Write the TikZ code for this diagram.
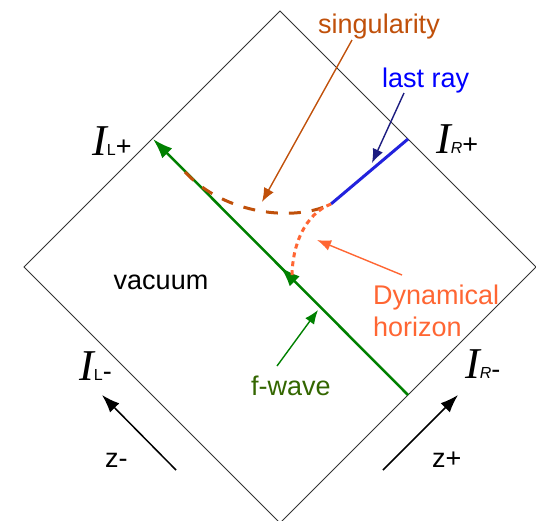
\documentclass[tikz,border=0pt]{standalone}
\usepackage{fontspec}
\setmainfont{Liberation Sans}
\newfontfamily\serifI{Liberation Serif}
\usetikzlibrary{arrows.meta,decorations.markings}
\definecolor{sgorange}{HTML}{C0500A}
\definecolor{lrblue}{HTML}{0000FF}
\definecolor{lrline}{HTML}{2222DD}
\definecolor{lrnavy}{HTML}{1C1C80}
\definecolor{dhred}{HTML}{FF6633}
\definecolor{fwgreen}{HTML}{008000}
\definecolor{fwtext}{HTML}{336600}
\definecolor{edgegray}{HTML}{333333}
\newcommand{\scrilbl}[2]{{\fontsize{44}{44}\selectfont\serifI\itshape I}{\fontsize{16}{16}\selectfont #1}{\fontsize{27}{27}\selectfont #2}}

\begin{document}
\begin{tikzpicture}[x=1pt, y=-1pt,
  edge/.style={draw=edgegray, line width=1pt},
  lbl/.style={font=\fontsize{27}{32}\selectfont, inner sep=0pt},
  scri/.style={anchor=base west, inner sep=0pt},
  pointer/.style={-{Latex[length=14pt,width=11pt]}, line width=1.4pt},
  zarrow/.style={-{Latex[length=18pt,width=13pt]}, line width=1.5pt, draw=black},
  fwave/.style={draw=fwgreen, line width=2.5pt, -{Latex[length=20pt,width=14pt]},
    postaction={decorate, decoration={markings,
      mark=at position 0.5 with {\arrow{Latex[length=20pt,width=14pt]}}}}},
  lastray/.style={draw=lrline, line width=3pt},
  singular/.style={draw=sgorange, line width=3pt, dash pattern=on 12pt off 11pt},
  horizon/.style={draw=dhred, line width=3pt, dash pattern=on 5pt off 4pt},
]
  \useasboundingbox (0,0) rectangle (536,520);

  % Penrose diamond ---------------------------------------------------------
  \coordinate (left) at (24,267);
  \coordinate (top) at (280,11);
  \coordinate (right) at (536,267);
  \coordinate (bottom) at (280,523);
  \draw[edge] (left) -- (top) -- (right) -- (bottom) -- cycle;

  % f-wave, last ray, singularity and horizon -------------------------------
  \coordinate (fw in) at (408,395);
  \coordinate (fw out) at (153,139);
  \draw[fwave] (fw in) -- (fw out);
  \coordinate (lr out) at (408,139);
  \coordinate (lr end) at (331,204);
  \draw[lastray] (lr out) -- (lr end);
  \coordinate (sg start) at (185,172);
  \draw[singular] (sg start) .. controls (225,215) and (295,222) .. (lr end);
  \coordinate (dh end) at (292,277);
  \draw[horizon] (lr end) .. controls (305,214) and (292,245) .. (dh end);

  % Labels --------------------------------------------------------------------
  \node[lbl, text=sgorange, fill=white, inner sep=3pt, anchor=base] (sglabel) at (379,33) {singularity};
  \node[lbl, text=lrblue, anchor=base west] (lrlabel) at (382,87) {last ray};
  \node[lbl, text=dhred, anchor=north west, align=left] (dhlabel) at (373,285) {Dynamical\\horizon};
  \node[lbl, text=fwtext, anchor=base] (fwlabel) at (291,395) {f-wave};
  \node[lbl, anchor=base] (vacuum) at (161,289) {vacuum};
  \node[lbl, anchor=base west] (zminus) at (105,467) {z-};
  \node[lbl, anchor=base west] (zplus) at (432,467) {z+};

  \node[scri] (scrilp) at (92,155) {\scrilbl{L}{+}};
  \node[scri] (scrirp) at (436,153) {\scrilbl{\itshape R}{+}};
  \node[scri] (scrilm) at (79,380) {\scrilbl{L}{-}};
  \node[scri] (scrirm) at (465,378) {\scrilbl{\itshape R}{-}};

  % Pointers ------------------------------------------------------------------
  \coordinate (sg tail) at (352,40);
  \coordinate (sg tip) at (262,202);
  \draw[pointer, draw=sgorange] (sg tail) -- (sg tip);
  \coordinate (lr tail) at (404,93);
  \coordinate (lr tip) at (372,163);
  \draw[pointer, draw=lrnavy] (lr tail) -- (lr tip);
  \coordinate (dh tail) at (402,275);
  \coordinate (dh tip) at (317,240);
  \draw[pointer, draw=dhred] (dh tail) -- (dh tip);
  \coordinate (fw tail) at (277,366);
  \coordinate (fw tip) at (318,310);
  \draw[pointer, draw=fwgreen] (fw tail) -- (fw tip);

  \coordinate (zm tail) at (176,470);
  \coordinate (zm tip) at (102,395);
  \draw[zarrow] (zm tail) -- (zm tip);
  \coordinate (zp tail) at (383,470);
  \coordinate (zp tip) at (458,395);
  \draw[zarrow] (zp tail) -- (zp tip);
\end{tikzpicture}
\end{document}
